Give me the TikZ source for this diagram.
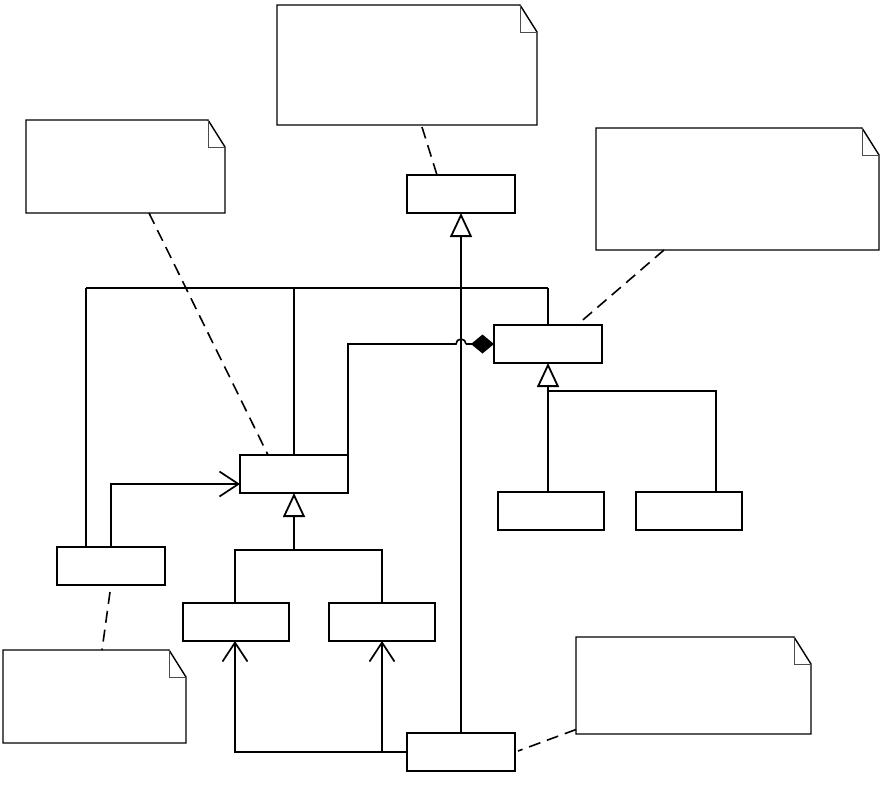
\documentclass[tikz,border=0pt]{standalone}
\usetikzlibrary{arrows.meta,calc}
\begin{document}
\begin{tikzpicture}[x=1pt,y=-1pt,
  cls/.style={draw,line width=2.2pt,minimum width=107pt,minimum height=38pt,inner sep=0pt,outer sep=0pt},
  notebox/.style={draw=none,inner sep=0pt,outer sep=0pt},
  notel/.style={line width=1.4pt},
  foldl/.style={line width=0.8pt,draw=black!70},
  conn/.style={line width=1.6pt},
  busl/.style={line width=2.2pt},
  dashc/.style={line width=1.6pt,dash pattern=on 12pt off 7pt},
  inh/.style={conn,-{Triangle[open,length=24pt,width=22pt,line width=1.8pt]}},
  opena/.style={conn,-{Straight Barb[length=19pt,width=25pt,line width=1.7pt]}},
  compo/.style={conn,-{Diamond[length=23pt,width=19pt]}}
]
\useasboundingbox (0,0) rectangle (893,788);
\newcommand{\drawnote}[1]{%
  \draw[notel] (#1.north west) -- ($(#1.north east)+(-17,0)$) -- ($(#1.north east)+(0,27)$) -- (#1.south east) -- (#1.south west) -- cycle;
  \draw[foldl] ($(#1.north east)+(-17,0)$) |- ($(#1.north east)+(0,27)$);}

% classes
\node[cls,minimum width=108pt] (A) at (461,194) {};
\node[cls,minimum width=108pt] (B) at (548,344) {};
\node[cls,minimum width=108pt] (C) at (294,474) {};
\node[cls,minimum width=108pt] (D) at (111,566) {};
\node[cls,minimum width=106pt] (E) at (236,622) {};
\node[cls,minimum width=106pt] (F) at (382,622) {};
\node[cls,minimum width=108pt] (G) at (461,752) {};
\node[cls,minimum width=106pt] (H) at (551,511) {};
\node[cls,minimum width=106pt] (I) at (689,511) {};

% notes
\node[notebox,minimum width=260pt,minimum height=120pt] (N1) at (407,65) {};
\node[notebox,minimum width=199pt,minimum height=93pt] (N2) at (125.5,166.5) {};
\node[notebox,minimum width=283pt,minimum height=122pt] (N3) at (737.5,189) {};
\node[notebox,minimum width=183pt,minimum height=93pt] (N4) at (94.5,696.5) {};
\node[notebox,minimum width=235pt,minimum height=97pt] (N5) at (693.5,685.5) {};
\drawnote{N1}\drawnote{N2}\drawnote{N3}\drawnote{N4}\drawnote{N5}

% dashed note links
\draw[dashc] ($(N1.south)+(15,2)$) -- ($(A.north)+(-24,0)$);
\draw[dashc] ($(N2.south)+(23.5,0)$) -- ($(C.north)+(-26,0)$);
\draw[dashc] ($(N3.south)+(-73.5,0)$) -- ($(B.north)+(29,0)$);
\draw[dashc] ($(D.south)+(-1,7)$) -- ($(N4.north)+(7.5,0)$);
\draw[dashc] ($(N5.west)+(0,44)$) -- ($(G.east)+(3,-1)$);

% bus
\coordinate (bL) at (86,288);
\coordinate (bR) at (548,288);
\draw[busl] (bL) -- (bR);
\draw[conn] (bL) -- (bL |- D.north);
\draw[conn] (C.north) -- (C.north |- bL);
\draw[conn] (bR) -- (B.north);

% G to A generalization
\draw[inh] (G.north) -- (A.south);

% C to B composition with hop
\coordinate (cb1) at (C.north east |- B.west);
\draw[conn] (C.north east) -- (cb1) -- ($(cb1 -| A.south)+(-5,0)$) arc[start angle=180,end angle=360,radius=5];
\draw[compo] ($(cb1 -| A.south)+(5,0)$) -- (B.west);

% B hierarchy
\coordinate (jB) at (548,391);
\draw[inh] (H.north -| B.south) -- (B.south);
\draw[conn] (jB) -| ($(I.north)+(27,0)$);

% C hierarchy
\coordinate (jC) at (294,550);
\draw[inh] (jC) -- (C.south);
\draw[conn] ($(E.north)+(-1,0)$) |- (jC);
\draw[conn] (F.north) |- (jC);

% D to C
\draw[opena] (D.north) |- ($(C.west)+(0,10)$);

% G to E and F
\draw[opena] (G.west) -| ($(E.south)+(-1,0)$);
\draw[opena] (G.west -| F.south) -- (F.south);
\end{tikzpicture}
\end{document}
